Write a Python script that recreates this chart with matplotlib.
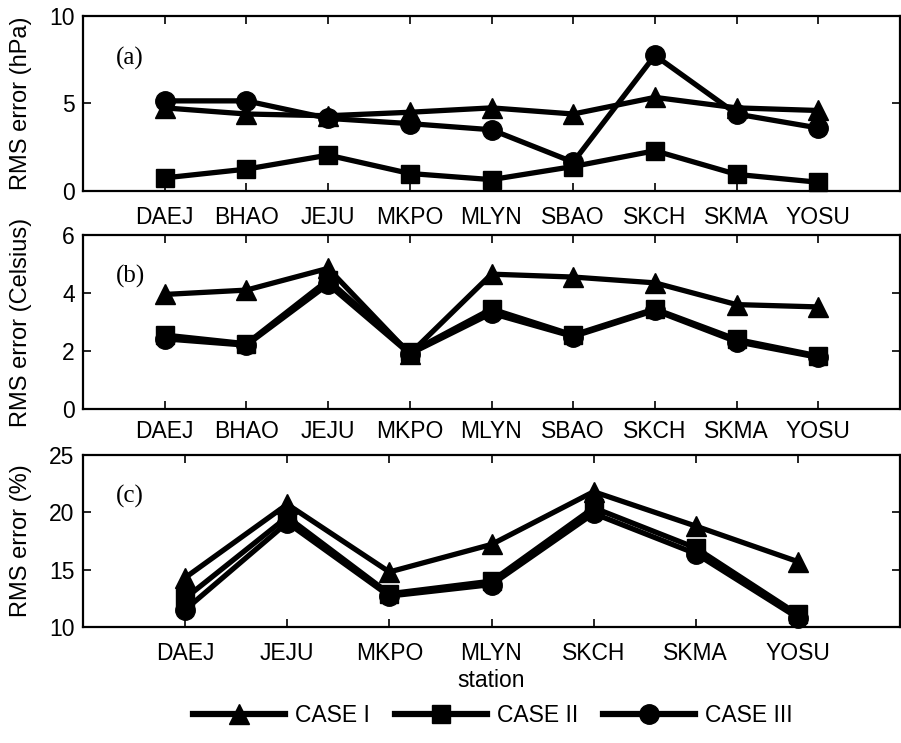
import numpy as np
import matplotlib
matplotlib.use('Agg')
from matplotlib import pyplot as plt
from matplotlib.lines import Line2D

stations_ab = ['DAEJ', 'BHAO', 'JEJU', 'MKPO', 'MLYN', 'SBAO', 'SKCH', 'SKMA', 'YOSU']
stations_c = ['DAEJ', 'JEJU', 'MKPO', 'MLYN', 'SKCH', 'SKMA', 'YOSU']

# (a) pressure, hPa
a_case1 = [4.75, 4.4, 4.3, 4.5, 4.75, 4.4, 5.35, 4.75, 4.6]
a_case2 = [0.75, 1.25, 2.05, 1.0, 0.65, 1.4, 2.3, 0.95, 0.5]
a_case3 = [5.15, 5.15, 4.15, 3.85, 3.5, 1.65, 7.75, 4.4, 3.6]

# (b) temperature, Celsius
b_case1 = [3.95, 4.1, 4.85, 1.9, 4.65, 4.55, 4.35, 3.6, 3.52]
b_case2 = [2.55, 2.25, 4.45, 1.95, 3.45, 2.55, 3.45, 2.4, 1.83]
b_case3 = [2.42, 2.2, 4.3, 1.9, 3.3, 2.5, 3.4, 2.32, 1.78]

# (c) humidity, %
c_case1 = [14.3, 20.7, 14.8, 17.2, 21.8, 18.8, 15.7]
c_case2 = [12.5, 19.6, 12.9, 14.0, 20.4, 16.9, 11.1]
c_case3 = [11.5, 19.1, 12.7, 13.7, 19.9, 16.4, 10.8]

cases = ['CASE I', 'CASE II', 'CASE III']
markers = ['^', 's', 'o']
msizes = [15, 13, 14]
LW = 3.8

fig = plt.figure(figsize=(9.01, 7.43), dpi=100)
W, H = 901, 743

def add_ax(top, bottom):
    return fig.add_axes([83 / W, 1 - bottom / H, 817 / W, (bottom - top) / H])

ax_a = add_ax(16, 191)
ax_b = add_ax(235, 409)
ax_c = add_ax(455, 627)

panels = [
    (ax_a, stations_ab, [a_case1, a_case2, a_case3], (0, 10), [0, 5, 10], 'RMS error (hPa)', '(a)', 10.5),
    (ax_b, stations_ab, [b_case1, b_case2, b_case3], (0, 6), [0, 2, 4, 6], 'RMS error (Celsius)', '(b)', 8),
    (ax_c, stations_c, [c_case1, c_case2, c_case3], (10, 25), [10, 15, 20, 25], 'RMS error (%)', '(c)', 11),
]

for ax, st, series, ylim, yt, ylab, tag, xpad in panels:
    x = np.arange(1, len(st) + 1)
    for vals, m, ms in zip(series, markers, msizes):
        ax.plot(x, vals, color='black', lw=LW, marker=m, ms=ms, clip_on=False)
    ax.set_xlim(0, len(st) + 1)
    ax.set_ylim(*ylim)
    ax.set_xticks(x)
    ax.set_xticklabels(st, fontsize=16.5, family='Liberation Sans')
    ax.set_yticks(yt)
    ax.set_yticklabels([str(v) for v in yt], fontsize=16.5, family='Liberation Sans')
    ax.tick_params(direction='in', top=True, right=True, length=6, width=1.2)
    ax.tick_params(axis='x', pad=xpad)
    ax.tick_params(axis='y', pad=6)
    ax.set_ylabel(ylab, fontsize=17, family='Liberation Sans')
    ax.yaxis.set_label_coords(-0.062, 0.5)
    for s in ax.spines.values():
        s.set_linewidth(1.6)
    ax.text(0.04, 0.76, tag, transform=ax.transAxes, fontsize=18,
            family='Liberation Serif', va='center')

ax_c.set_xlabel('station', fontsize=16.5, family='Liberation Sans', labelpad=3)

handles = [Line2D([], [], color='black', lw=4.5, marker=m, ms=ms) for m, ms in zip(markers, msizes)]
fig.legend(handles, cases, loc='center', bbox_to_anchor=(493 / W, 1 - 716 / H), ncol=3,
           frameon=False, handlelength=4.0, columnspacing=1.1, handletextpad=0.45,
           prop={'family': 'Liberation Sans', 'size': 16.5})

fig.savefig('out.png', dpi=100)
